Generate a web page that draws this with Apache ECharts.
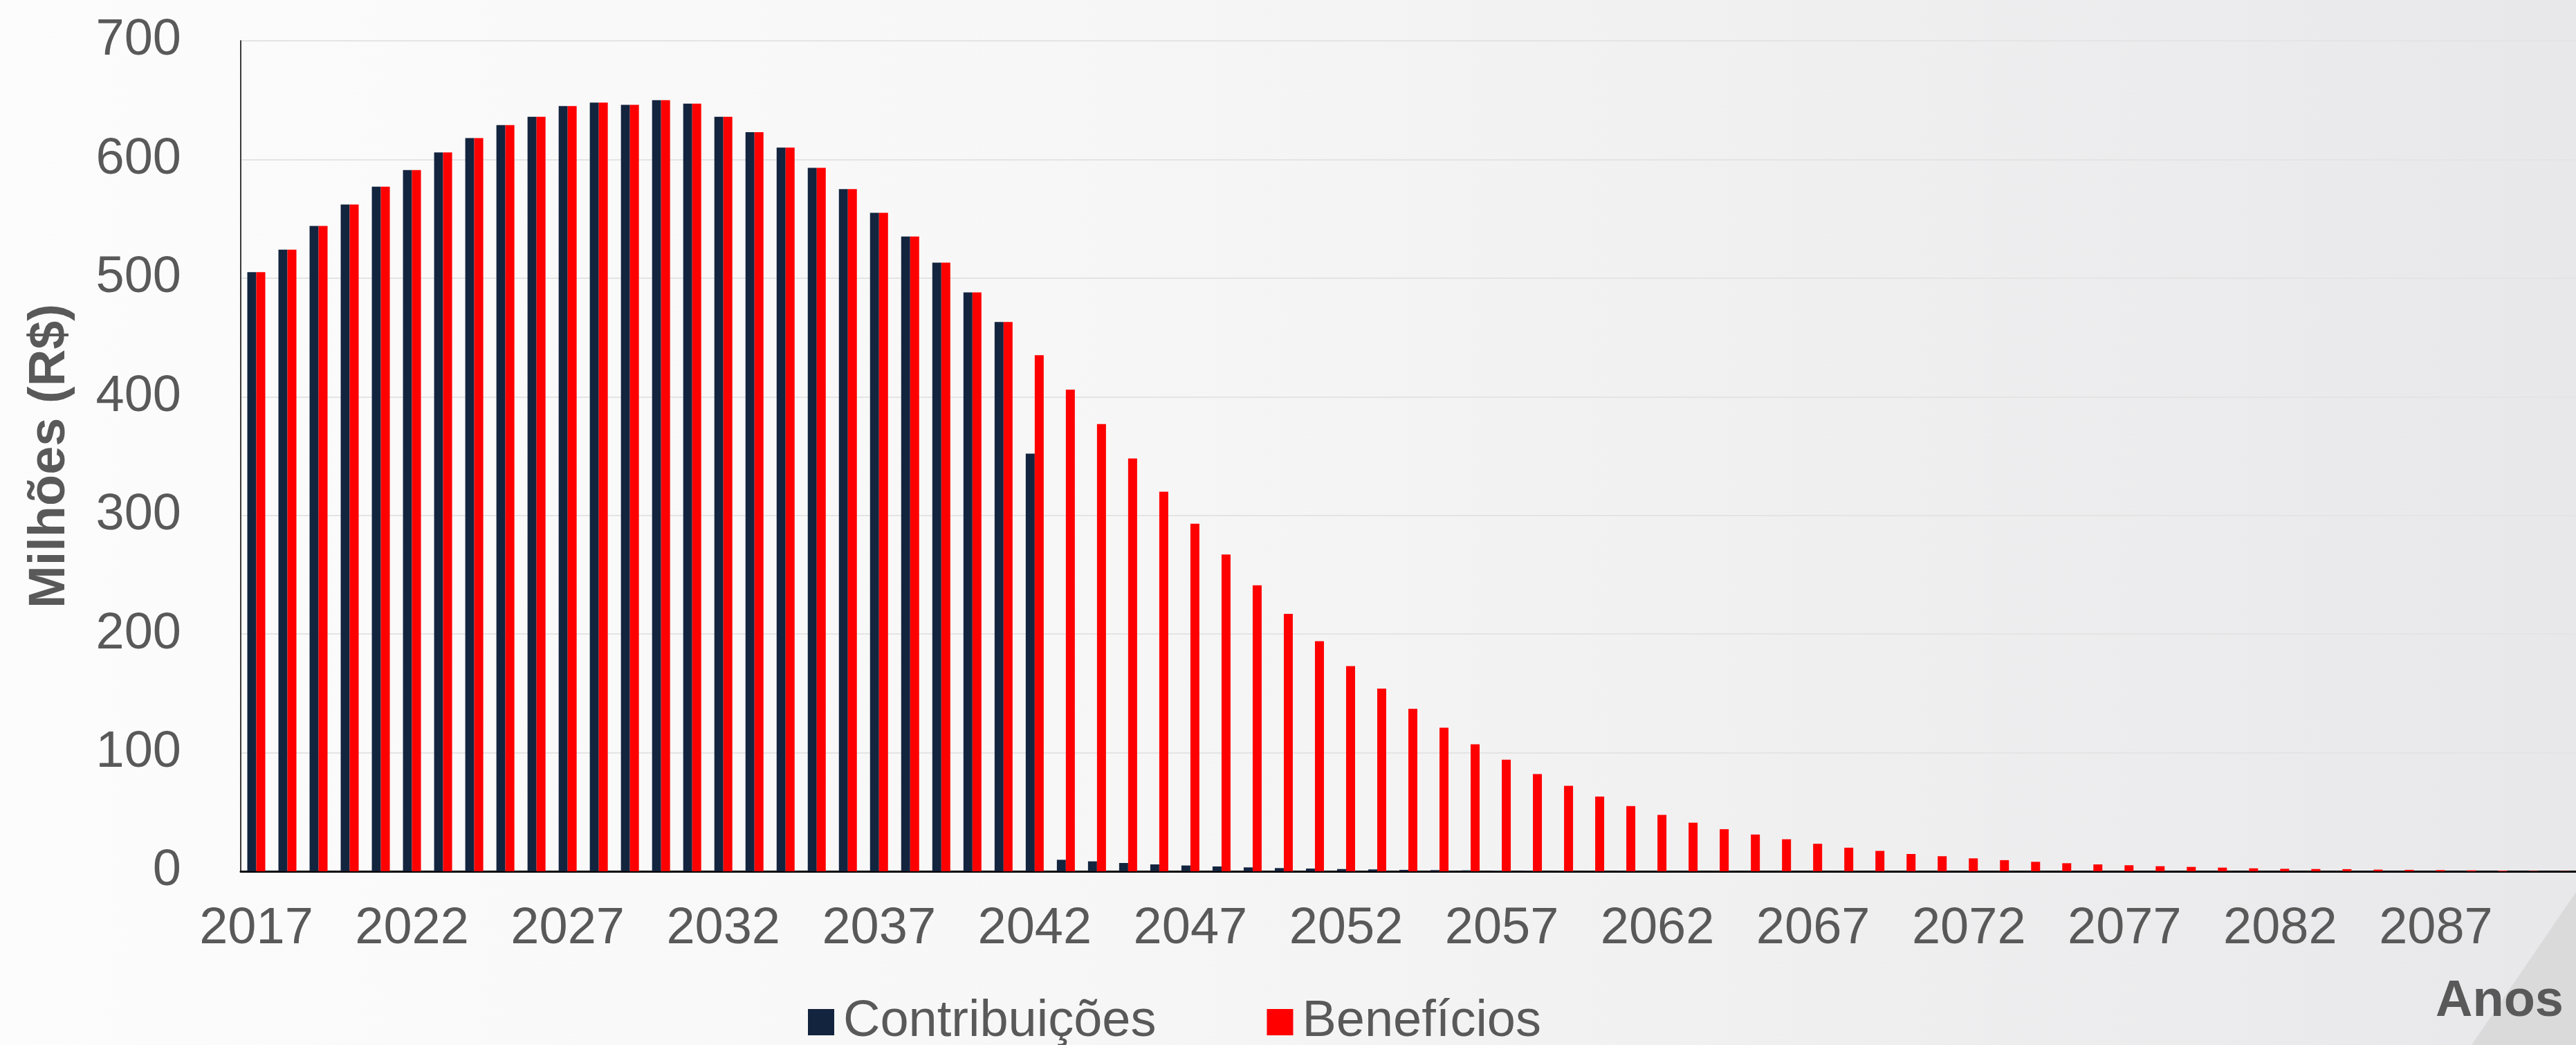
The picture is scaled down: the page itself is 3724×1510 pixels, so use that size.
<!DOCTYPE html>
<html>
<head>
<meta charset="utf-8">
<script src="https://cdn.jsdelivr.net/npm/echarts@6/dist/echarts.min.js"></script>
<style>
html,body{margin:0;padding:0;background:#f5f5f5;}
#chart{width:3724px;height:1510px;}
</style>
</head>
<body>
<div id="chart"></div>
<script>
var years = [];
for (var y = 2017; y <= 2091; y++) { years.push(String(y)); }

var contribuicoes = [
  505, 524, 544, 562, 577, 591, 606, 618, 629, 636,
  645, 648, 646, 650, 647, 636, 623, 610, 593, 575,
  555, 535, 513, 488, 463, 352, 9.7, 8.4, 7.0, 5.8,
  4.9, 4.1, 3.3, 2.7, 2.3, 1.9, 1.6, 1.2, 1.0, 0.8,
  0.6, 0.4, 0.3, 0.2, 0.2, 0.1, 0.1, 0.1, 0, 0,
  0, 0, 0, 0, 0, 0, 0, 0, 0, 0,
  0, 0, 0, 0, 0, 0, 0, 0, 0, 0,
  0, 0, 0, 0, 0
];

var beneficios = [
  505, 524, 544, 562, 577, 591, 606, 618, 629, 636,
  645, 648, 646, 650, 647, 636, 623, 610, 593, 575,
  555, 535, 513, 488, 463, 435, 406, 377, 348, 320,
  293, 267, 241, 217, 194, 173, 154, 137, 121, 107,
  94, 82, 72, 63, 55, 47.5, 41, 35.5, 31, 27,
  23.2, 19.9, 17.2, 14.6, 12.7, 10.9, 9.4, 8.0, 6.8, 5.8,
  5.1, 4.3, 3.7, 3.1, 2.5, 2.1, 1.9, 1.8, 1.4, 1.2,
  1.0, 0.8, 0.6, 0.3, 0.2
];

var yTicks = { min: 0, max: 700, interval: 100 };

var FONT = "'Liberation Sans', Arial, sans-serif";
var TXT = '#595959';

var chart = echarts.init(document.getElementById('chart'), null, { renderer: 'canvas' });
chart.setOption({
  animation: false,
  backgroundColor: {
    type: 'linear', x: 0, y: 0, x2: 1, y2: 0,
    colorStops: [
      { offset: 0, color: '#fcfcfc' },
      { offset: 0.4, color: '#f7f7f7' },
      { offset: 1, color: '#e8e8ea' }
    ]
  },
  grid: { left: 348, right: 0, top: 59, bottom: 251, containLabel: false },
  legend: {
    left: 1163, top: 1435,
    icon: 'rect', itemWidth: 38, itemHeight: 38, itemGap: 160,
    textStyle: { fontFamily: FONT, fontSize: 74, color: TXT, padding: [0, 0, 0, 8] },
    data: ['Contribuições', 'Benefícios']
  },
  xAxis: {
    type: 'category',
    data: years,
    axisLine: { show: true, lineStyle: { color: '#000000', width: 3 } },
    axisTick: { show: false },
    axisLabel: { interval: 4, margin: 47, fontFamily: FONT, fontSize: 74, color: TXT, lineHeight: 74 },
    splitLine: { show: false }
  },
  yAxis: {
    type: 'value',
    min: yTicks.min, max: yTicks.max, interval: yTicks.interval,
    name: 'Milhões (R$)',
    nameLocation: 'middle',
    nameGap: 238,
    nameTextStyle: { fontFamily: FONT, fontSize: 74, fontWeight: 'bold', color: TXT },
    axisLine: { show: true, lineStyle: { color: '#3a3a3a', width: 2 } },
    axisTick: { show: false },
    axisLabel: { margin: 86, fontFamily: FONT, fontSize: 74, color: TXT },
    splitLine: { show: true, lineStyle: { color: '#e4e4e4', width: 2 } }
  },
  series: [
    {
      name: 'Contribuições', type: 'bar', data: contribuicoes,
      barWidth: 13, barGap: '0%',
      itemStyle: { color: '#13243f' }
    },
    {
      name: 'Benefícios', type: 'bar', data: beneficios,
      barWidth: 13, barGap: '0%',
      itemStyle: { color: '#ff0000' }
    }
  ],
  graphic: [
    {
      type: 'polygon', z: 0, silent: true,
      shape: { points: [[3724, 1289], [3573, 1510], [3724, 1510]] },
      style: { fill: '#dadadb' }
    },
    {
      type: 'text', z: 10, right: 18, top: 1411,
      style: { text: 'Anos', font: "bold 74px 'Liberation Sans', Arial, sans-serif", fill: TXT }
    }
  ]
});
</script>
</body>
</html>
